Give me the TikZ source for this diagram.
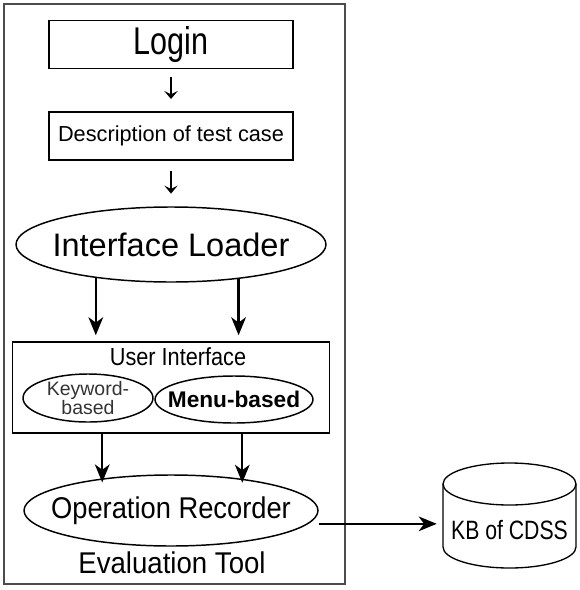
\documentclass[tikz,border=0pt]{standalone}
\usepackage{fontspec}
\setmainfont{Liberation Sans}
\usetikzlibrary{shapes.geometric,arrows.meta}
\tikzset{node distance=2cm, auto}

\begin{document}
\begin{tikzpicture}[x=0.75pt,y=-0.75pt,
  box/.style={draw, line width=1.4pt, rectangle, minimum width=183pt, minimum height=36pt},
  oval/.style={draw, line width=1.1pt, ellipse, inner xsep=-14pt, inner ysep=-3pt},
  panel/.style={draw, line width=1.1pt, rectangle, minimum width=237.75pt, minimum height=68.25pt},
  small/.style={-{Stealth[length=6pt,width=10pt,inset=2.5pt]}, line width=1.4pt},
  big/.style={-{Stealth[length=13.5pt,width=11pt,inset=4pt]}, line width=1.7pt}]
\useasboundingbox (0,0) rectangle (580,590);
% outer frame
\draw[line width=1.4pt, black!70] (4,4) rectangle (345,584);

\node[box, font=\fontsize{29}{32}\selectfont\addfontfeature{FakeStretch=0.79}] (login) at (171,44.5) {Login};
\node[box, below of=login, node distance=68.6pt, font=\fontsize{16.3}{19}\selectfont] (desc) {Description of test case};
\node[oval, below of=desc, node distance=81.4pt, minimum width=232.5pt, minimum height=56.25pt,
  font=\fontsize{24.4}{28}\selectfont] (loader) {Interface Loader};
\node[panel, below of=loader, node distance=107.25pt] (ui) {};
\node[anchor=base, font=\fontsize{18.5}{22}\selectfont\addfontfeature{FakeStretch=0.88}] (uititle) at (178,365) {User Interface};
\node[oval, minimum width=97.5pt, minimum height=36pt, align=center, text=black!80,
  font=\fontsize{14.6}{14.6}\selectfont] (keyword) at (88,398) {Keyword-\\based};
\node[oval, minimum width=118.5pt, minimum height=35.25pt, font=\fontsize{17}{20}\selectfont\bfseries] (menu) at (234,399.5) {Menu-based};
\node[oval, below of=ui, node distance=92.25pt, minimum width=220.5pt, minimum height=53.25pt,
  font=\fontsize{22.5}{26}\selectfont\addfontfeature{FakeStretch=0.91}] (recorder) {Operation Recorder};
\node[anchor=base, font=\fontsize{22.5}{26}\selectfont\addfontfeature{FakeStretch=0.92}] (tool) at (172,573) {Evaluation Tool};

% knowledge base drum
\draw[line width=1pt] (443,484) -- (443,547) arc[start angle=180, end angle=0, x radius=66.5, y radius=21] -- (576,484);
\draw[line width=1pt] (509.5,484) ellipse [x radius=66.5, y radius=21];
\node[minimum width=99.75pt, inner sep=0pt, font=\fontsize{19.9}{23}\selectfont\addfontfeature{FakeStretch=0.8}] (kb) at (509.5,530) {KB of CDSS};

\draw[small, shorten <=6pt, shorten >=9pt] (login) -- (desc);
\draw[small, shorten <=7.5pt, shorten >=9.5pt] (desc) -- (loader);
\draw[big, shorten >=4.5pt] (loader.204) -- (loader.204 |- ui.north);
\draw[big, shorten >=4.5pt] (loader.333) -- (loader.333 |- ui.north);
\draw[big, shorten >=-3pt] (recorder.155.6 |- ui.south) -- (recorder.155.6);
\draw[big, shorten >=-3pt] (recorder.24.5 |- ui.south) -- (recorder.24.5);
\coordinate (recout) at ([yshift=-10pt]recorder.east);
\draw[big, line width=1.5pt, shorten >=4.5pt] (recout) -- (recout -| kb.west);
\end{tikzpicture}
\end{document}
